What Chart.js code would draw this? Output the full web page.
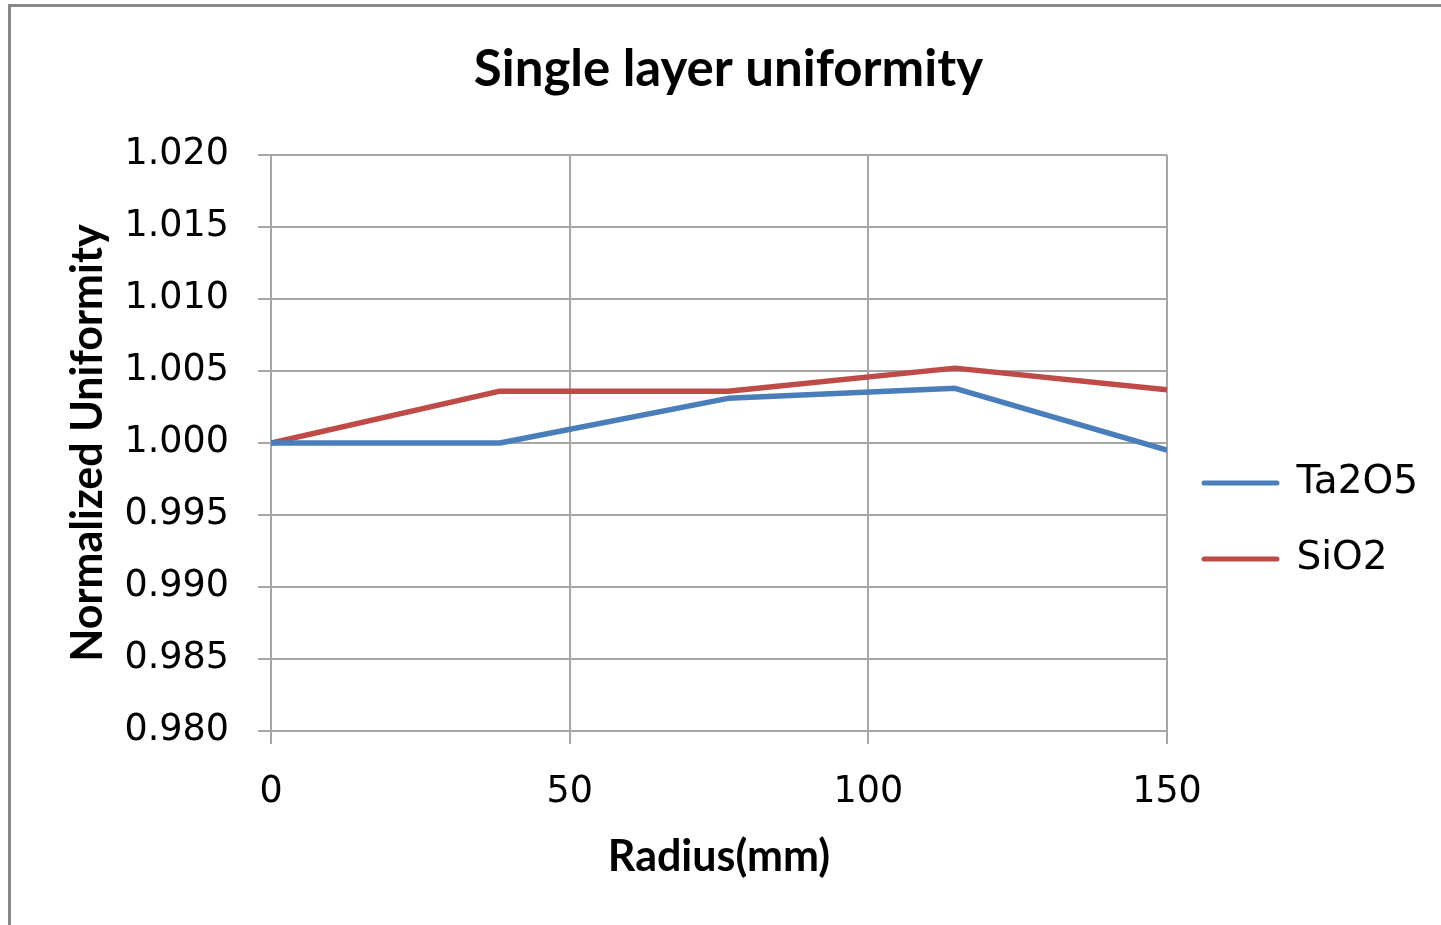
<!DOCTYPE html>
<html>
<head>
<meta charset="utf-8">
<script src="https://cdn.jsdelivr.net/npm/chart.js@4"></script>
<style>
  html, body { margin: 0; padding: 0; background: #fff; overflow: hidden; }
  #frame {
    position: absolute; left: 8px; top: 4px; width: 1500px; height: 1000px;
    border-left: 3px solid #888; border-top: 3px solid #888;
  }
  #wrap { position: absolute; left: 0; top: 0; width: 1441px; height: 925px; }
</style>
</head>
<body>
<div id="frame"></div>
<div id="wrap"><canvas id="chart" width="1441" height="925"></canvas></div>
<script>
// values
const radius = [0, 38.3, 76.5, 114.5, 150];
const ta2o5 = [1.0000, 1.0000, 1.0031, 1.0038, 0.9995];
const sio2 = [1.0000, 1.0036, 1.0036, 1.0052, 1.0037];
const seriesNames = ['Ta2O5', 'SiO2'];
const seriesColors = ['#4a7ebb', '#be4b48'];

const gridColor = '#a6a6a6';
const tickFont = { family: 'DejaVu Sans', size: 36.5 };
const legendFont = { family: 'DejaVu Sans', size: 39 };
const boldFont = { family: 'Lato', weight: 'bold' };

// plot box wanted: left 271, right 1167, top 155, bottom 731
const legendPad = 37, legendBox = 73;
const m = document.createElement('canvas').getContext('2d');
m.font = '39px "DejaVu Sans"';
const textW = Math.max(...seriesNames.map(s => m.measureText(s).width));
const legendW = legendPad + legendBox + legendFont.size / 2 + textW;
const padR = 1441 - 1167 - legendW - 10;
const padL = 16 + padR;

function toPoints(xs, ys) {
  return xs.map((x, i) => ({ x: x, y: ys[i] }));
}

new Chart(document.getElementById('chart'), {
  type: 'line',
  data: {
    datasets: [
      { label: seriesNames[0], data: toPoints(radius, ta2o5), borderColor: seriesColors[0], backgroundColor: seriesColors[0] },
      { label: seriesNames[1], data: toPoints(radius, sio2), borderColor: seriesColors[1], backgroundColor: seriesColors[1] }
    ]
  },
  options: {
    responsive: false,
    animation: false,
    layout: { padding: { left: padL, right: padR, top: 0, bottom: 0 } },
    elements: {
      line: { borderWidth: 5.5, tension: 0, borderJoinStyle: 'round', borderCapStyle: 'butt' },
      point: { radius: 0 }
    },
    plugins: {
      title: {
        display: true,
        text: 'Single layer uniformity',
        color: '#000',
        font: { family: 'Lato', weight: 'bold', size: 51 },
        padding: { top: 39.4, bottom: 54.4 }
      },
      legend: {
        position: 'right',
        title: { display: true, text: ' ', font: { size: 20 }, padding: { top: 0, bottom: 93 } },
        labels: {
          color: '#000',
          font: legendFont,
          boxWidth: legendBox,
          boxHeight: 0,
          padding: legendPad,
          generateLabels(chart) {
            return chart.data.datasets.map((ds, i) => ({
              text: ds.label,
              fillStyle: ds.borderColor,
              strokeStyle: ds.borderColor,
              lineWidth: 5,
              lineJoin: 'round',
              fontColor: '#000',
              datasetIndex: i
            }));
          }
        }
      },
      tooltip: { enabled: false }
    },
    scales: {
      x: {
        type: 'linear',
        min: 0, max: 150,
        afterFit(s) { s.height = 925 - 731; },
        ticks: { stepSize: 50, color: '#000', font: tickFont, padding: 27, maxRotation: 0 },
        grid: { color: gridColor, lineWidth: 2, tickLength: 13 },
        border: { color: gridColor, width: 2 },
        title: { display: true, text: 'Radius(mm)', color: '#000', font: Object.assign({ size: 43 }, boldFont), padding: { top: 0, bottom: 42 } }
      },
      y: {
        min: 0.98, max: 1.02,
        afterFit(s) { s.width = 271 - padL; },
        ticks: { stepSize: 0.005, color: '#000', font: tickFont, padding: 29, callback: v => v.toFixed(3) },
        grid: { color: gridColor, lineWidth: 2, tickLength: 13 },
        border: { color: gridColor, width: 2 },
        title: { display: true, text: 'Normalized Uniformity', color: '#000', font: Object.assign({ size: 43 }, boldFont), padding: { top: 62.2 - padL, bottom: 0 } }
      }
    }
  }
});
</script>
</body>
</html>
